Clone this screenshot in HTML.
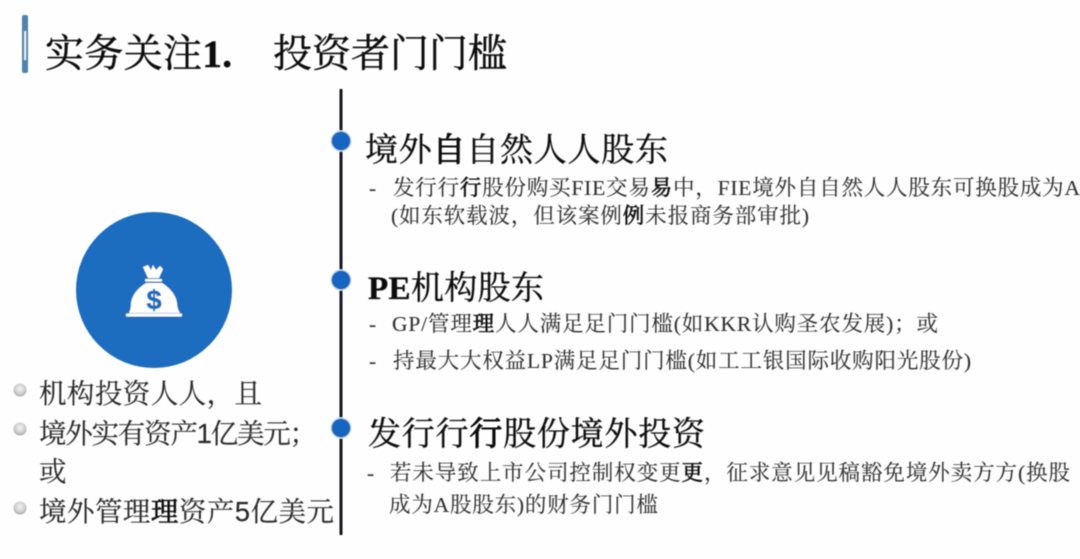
<!DOCTYPE html>
<html><head><meta charset="utf-8"><style>
html,body{margin:0;padding:0;background:#fefefe;width:1080px;height:559px;overflow:hidden}
svg{display:block}
.t{font-family:"Liberation Serif","Noto Serif CJK SC",serif;fill:#111}
.h{font-size:33px;fill:#111;stroke:#111;stroke-width:.35px}
.b{font-size:21.5px;fill:#333;stroke:#333;stroke-width:.12px}
.l{font-size:27.5px;fill:#2a2a2a;stroke:#2a2a2a;stroke-width:.15px}
.k{stroke-width:1px}
.m{stroke-width:.6px;fill:#111;stroke:#111}
</style></head><body>
<svg width="1080" height="559" viewBox="0 0 1080 559" xmlns="http://www.w3.org/2000/svg">
<defs>
<radialGradient id="g" cx="50%" cy="40%" r="60%"><stop offset="0" stop-color="#f2f2f2"/><stop offset=".6" stop-color="#d2d2d2"/><stop offset="1" stop-color="#a8a8a8"/></radialGradient>
<filter id="s" x="-5%" y="-5%" width="110%" height="110%"><feGaussianBlur stdDeviation="0.45"/></filter>
</defs>
<rect width="1080" height="559" fill="#fefefe"/>
<g filter="url(#s)">
<rect x="22" y="15" width="6" height="58" rx="2" fill="#4d83ad"/>
<rect x="24.2" y="31" width="1.8" height="29" fill="#f4f8fb"/>
<text class="t" x="45" y="67" font-size="39" stroke="#111" stroke-width=".45" textLength="187" lengthAdjust="spacing">实务关注<tspan font-weight="bold">1.</tspan></text>
<text class="t" x="273" y="67" font-size="39" stroke="#111" stroke-width=".45" textLength="234" lengthAdjust="spacing">投资者门门槛</text>

<rect x="339.5" y="89" width="3" height="446" fill="#15151f"/>
<g fill="#1565c0" stroke="#cfe0f2" stroke-width="1.2">
<circle cx="341" cy="141" r="10"/><circle cx="341" cy="280" r="10"/><circle cx="341" cy="428" r="10"/>
</g>

<text class="t h" x="365" y="161" textLength="303" lengthAdjust="spacing">境外<tspan class="k">自</tspan>自然人人股东</text>
<text class="t b" x="369" y="195">-</text>
<text class="t b" x="393" y="195" textLength="687" lengthAdjust="spacing">发行行<tspan class="m">行</tspan>股份购买FIE交易<tspan class="m">易</tspan>中，FIE境外自自然人人股东可换股成为A</text>
<text class="t b" x="391" y="223" textLength="418" lengthAdjust="spacing">(如东软载波，但该案例<tspan class="m">例</tspan>未报商务部审批)</text>

<text class="t h" x="368" y="299" textLength="176" lengthAdjust="spacing"><tspan font-weight="bold">PE</tspan>机构股东</text>
<text class="t b" x="369" y="331">-</text>
<text class="t b" x="392" y="331" textLength="546" lengthAdjust="spacing">GP/管理<tspan class="m">理</tspan>人人满足足门门槛(如KKR认购圣农发展)；或</text>
<text class="t b" x="369" y="368">-</text>
<text class="t b" x="393" y="368" textLength="578" lengthAdjust="spacing">持最大大权益LP满足足门门槛(如工工银国际收购阳光股份)</text>

<text class="t h" x="368" y="445" textLength="337" lengthAdjust="spacing">发行行<tspan class="k">行</tspan>股份境外投资</text>
<text class="t b" x="367" y="480">-</text>
<text class="t b" x="390" y="480" textLength="680" lengthAdjust="spacing">若未导致上市公司控制权变更<tspan class="m">更</tspan>，征求意见见稿豁免境外卖方方(换股</text>
<text class="t b" x="389" y="512" textLength="269" lengthAdjust="spacing">成为A股股东)的财务门门槛</text>

<circle cx="154" cy="290" r="78" fill="#1f6dbf"/>
<path d="M143 267 L148 265 L151 270 L153 265 L156 270 L160 266 L163 269 L159 278 L148 278 Z" fill="#fff"/>
<rect x="145" y="279" width="17" height="2.5" rx="1" fill="#fff"/>
<path d="M146 283 L162 283 C170 288 176 295 177 303 C177 308 179 311 180 313 L129 313 C130 311 131 308 131 303 C132 295 138 288 146 283 Z" fill="#fff"/>
<rect x="126" y="313.5" width="56" height="3" rx="1" fill="#fff"/>
<text x="154" y="309" text-anchor="middle" font-family="Liberation Sans,sans-serif" font-weight="bold" font-size="27" stroke="#1f6dbf" stroke-width=".6" fill="#1f6dbf">$</text>

<circle cx="20" cy="390" r="6.5" fill="url(#g)"/>
<circle cx="20" cy="429" r="6.5" fill="url(#g)"/>
<circle cx="20" cy="508" r="6.5" fill="url(#g)"/>
<text class="t l" x="39" y="403" textLength="223" lengthAdjust="spacing">机构投资人人，且</text>
<text class="t l" x="39" y="443" textLength="278" lengthAdjust="spacing">境外实有资产<tspan font-family="Liberation Sans">1</tspan>亿美元；</text>
<text class="t l" x="39" y="481">或</text>
<text class="t l" x="39" y="521" textLength="295" lengthAdjust="spacing">境外管理<tspan class="m">理</tspan>资产<tspan font-family="Liberation Sans">5</tspan>亿美元</text>
</g>
</svg>
</body></html>
